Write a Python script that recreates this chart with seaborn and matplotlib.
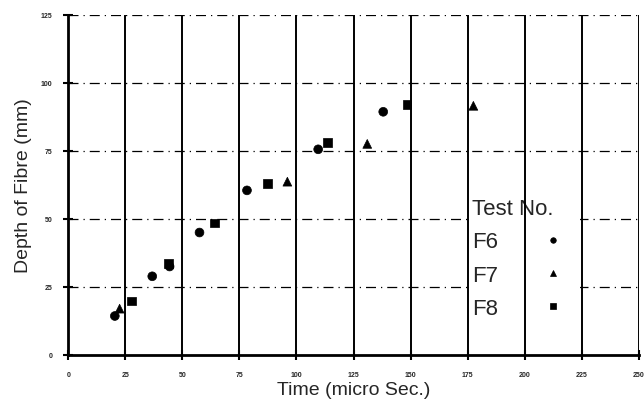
import pandas as pd
import matplotlib
matplotlib.use('Agg')
import matplotlib.pyplot as plt
import seaborn as sns

# datos
f6_time = [20.4, 36.8, 44.4, 57.5, 78.3, 109.5, 138.0]
f6_depth = [14.3, 28.9, 32.5, 45.0, 60.5, 75.6, 89.4]
f7_time = [22.5, 96.0, 131.0, 177.5]
f7_depth = [17.0, 63.7, 77.6, 91.6]
f8_time = [27.7, 43.8, 64.1, 87.2, 113.7, 148.4]
f8_depth = [19.8, 33.6, 48.5, 63.0, 78.0, 92.1]
x_ticks = [0, 25, 50, 75, 100, 125, 150, 175, 200, 225, 250]
y_ticks = [0, 25, 50, 75, 100, 125]

df = pd.DataFrame({
    'time': f6_time + f7_time + f8_time,
    'depth': f6_depth + f7_depth + f8_depth,
    'test': ['F6'] * len(f6_time) + ['F7'] * len(f7_time) + ['F8'] * len(f8_time),
})

sns.set_style('white')
plt.rcParams['font.family'] = ['Liberation Sans', 'DejaVu Sans']

fig = plt.figure(figsize=(6.44, 4.10), dpi=100)
ax = fig.add_axes([0.106, 0.132, 0.886, 0.829])

# rejilla: verticales solidas (por encima de la leyenda), horizontales punto-raya
for v in x_ticks[1:]:
    ax.axvline(v, color='black', lw=1.4, zorder=2.5)
for h in y_ticks[1:]:
    ax.axhline(h, color='black', lw=0.9, ls=(0, (8, 4, 1, 4)), zorder=1)

sns.scatterplot(data=df, x='time', y='depth', hue='test', style='test',
                markers={'F6': 'o', 'F7': '^', 'F8': 's'},
                palette={'F6': 'black', 'F7': 'black', 'F8': 'black'},
                s=40, edgecolor='black', linewidth=0.5,
                ax=ax, zorder=3)

ax.set_xlim(0, 250)
ax.set_ylim(0, 125)
ax.set_xticks(x_ticks)
ax.set_yticks(y_ticks)
ax.tick_params(axis='both', direction='inout', length=7, width=1.5,
               labelsize=5, color='black', bottom=True, left=True)
for lab in ax.get_xticklabels() + ax.get_yticklabels():
    lab.set_fontweight('bold')
ax.tick_params(axis='x', pad=8)
ax.tick_params(axis='y', pad=8)

for side in ['top', 'right']:
    ax.spines[side].set_visible(False)
for side in ['left', 'bottom']:
    ax.spines[side].set_linewidth(2)
    ax.spines[side].set_color('black')
    ax.spines[side].set_zorder(4)

ax.set_xlabel('Time (micro Sec.)', fontsize=14, labelpad=2)
ax.set_ylabel('Depth of Fibre (mm)', fontsize=14, labelpad=6)

handles, labels = ax.get_legend_handles_labels()
for hnd in handles:
    hnd.set_markersize(4)
leg = ax.legend(handles, labels, title='Test No.', loc='lower left',
                bbox_to_anchor=(0.68, 0.06), frameon=True, markerfirst=False,
                fontsize=16, title_fontsize=16, handletextpad=1.5,
                handlelength=2.0, labelspacing=0.55, borderpad=0.2)
leg._legend_box.align = 'left'
leg.get_frame().set_facecolor('white')
leg.get_frame().set_edgecolor('none')
leg.get_frame().set_alpha(1)
leg.set_zorder(2)

fig.savefig('out.png', dpi=100)
